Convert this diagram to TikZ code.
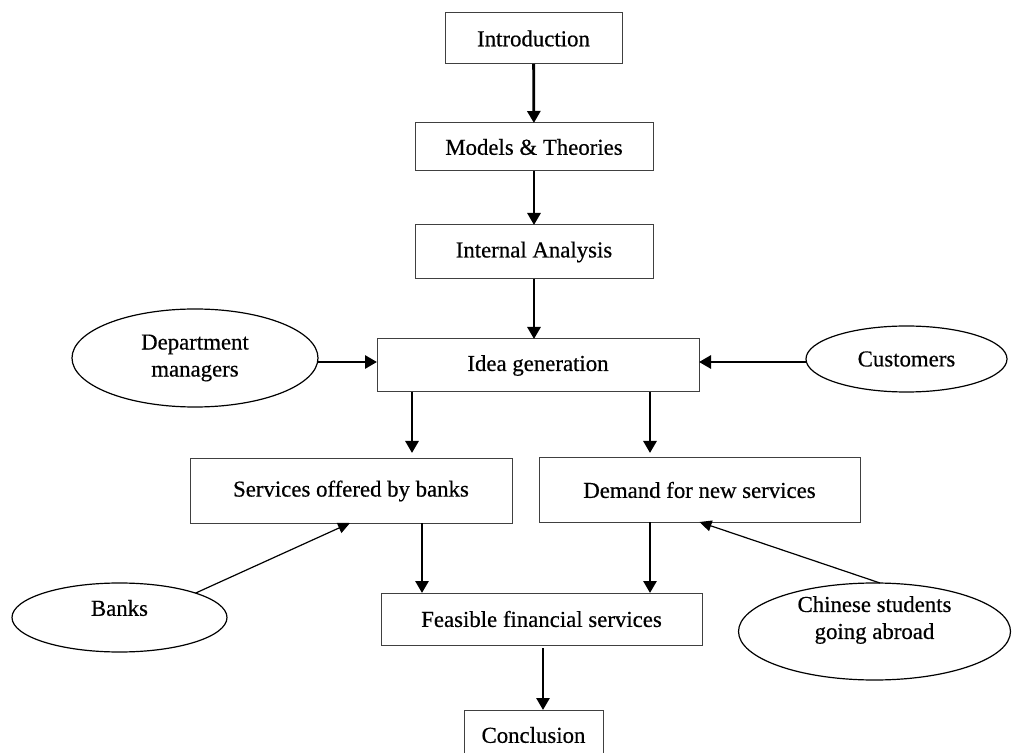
\documentclass[tikz,border=0pt]{standalone}
\usepackage{fontspec}
\setmainfont{Liberation Serif}[FakeBold=0.5]
\usetikzlibrary{arrows.meta,shapes.geometric}

\begin{document}
\begin{tikzpicture}[
  x=0.5pt, y=-0.5pt,
  font=\fontsize{11.4}{13.5}\selectfont,
  box/.style={rectangle, draw=black!75, line width=0.5pt, inner sep=0pt, outer sep=0pt, align=center},
  oval/.style={ellipse, draw=black, line width=0.6pt, inner sep=0pt, outer sep=0pt, align=center},
  flow/.style={-{Triangle[length=6pt,width=6.5pt]}, line width=1.4pt},
  feed/.style={-{Triangle[length=6pt,width=5.5pt]}, line width=0.6pt}
]
\useasboundingbox (0,0) rectangle (1012,753);
\clip (0,0) rectangle (1012,753);

\node[box, minimum width=88.5pt, minimum height=25.5pt] (intro) at (533.5,38.5) {Introduction};
\node[box, minimum width=119pt, minimum height=24pt] (models) at (534,147) {Models \& Theories};
\node[box, minimum width=119pt, minimum height=27pt] (internal) at (534,252) {Internal Analysis};
\node[box, minimum width=161pt, minimum height=26.5pt] (idea) at (538,365.5) {Idea generation};
\node[oval, minimum width=123pt, minimum height=49pt] (dept) at (195,358) {Department\\managers};
\node[oval, minimum width=100.5pt, minimum height=33pt] (cust) at (906.5,359) {Customers};
\node[box, minimum width=161pt, minimum height=32pt] (offer) at (351,491) {Services offered by banks};
\node[box, minimum width=160.5pt, minimum height=32pt] (demand) at (699.5,490) {Demand for new services};
\node[oval, minimum width=107.5pt, minimum height=34.5pt, label={[yshift=4.75pt]center:Banks}] (banks) at (119.5,617.5) {};
\node[oval, minimum width=136pt, minimum height=48.5pt, label={[align=center,yshift=5.75pt]center:{Chinese students\\going abroad}}] (students) at (874.5,631.5) {};
\node[box, minimum width=160.5pt, minimum height=26pt] (feasible) at (541.5,619) {Feasible financial services};
\node[box, minimum width=69.5pt, minimum height=25pt] (concl) at (533.5,735) {Conclusion};

\draw[flow] (intro) -- (models);
\draw[flow] (models) -- (internal);
\draw[flow] (internal.south) -- (internal.south |- idea.north);
\draw[flow] ([yshift=-2pt]dept.east) -- ([yshift=1.75pt]idea.west);
\draw[flow] ([yshift=-1.5pt]cust.west) -- ([yshift=1.75pt]idea.east);
\draw[flow, shorten >=3pt] ([xshift=-63pt]idea.south) -- ([xshift=30.5pt]offer.north);
\draw[flow, shorten >=2.5pt] ([xshift=56pt]idea.south) -- ([xshift=-24.75pt]demand.north);
\draw[flow] ([xshift=35.5pt]offer.south) -- ([xshift=-59.75pt]feasible.north);
\draw[flow] ([xshift=-24.75pt]demand.south) -- ([xshift=54.25pt]feasible.north);
\draw[flow, shorten <=1.5pt] ([xshift=0.75pt]feasible.south) -- ([xshift=4.75pt]concl.north);
\draw[feed] (banks.north east) -- ([xshift=-0.5pt]offer.south);
\draw[feed] ([xshift=2.75pt]students.north) -- (demand.south);
\end{tikzpicture}
\end{document}
